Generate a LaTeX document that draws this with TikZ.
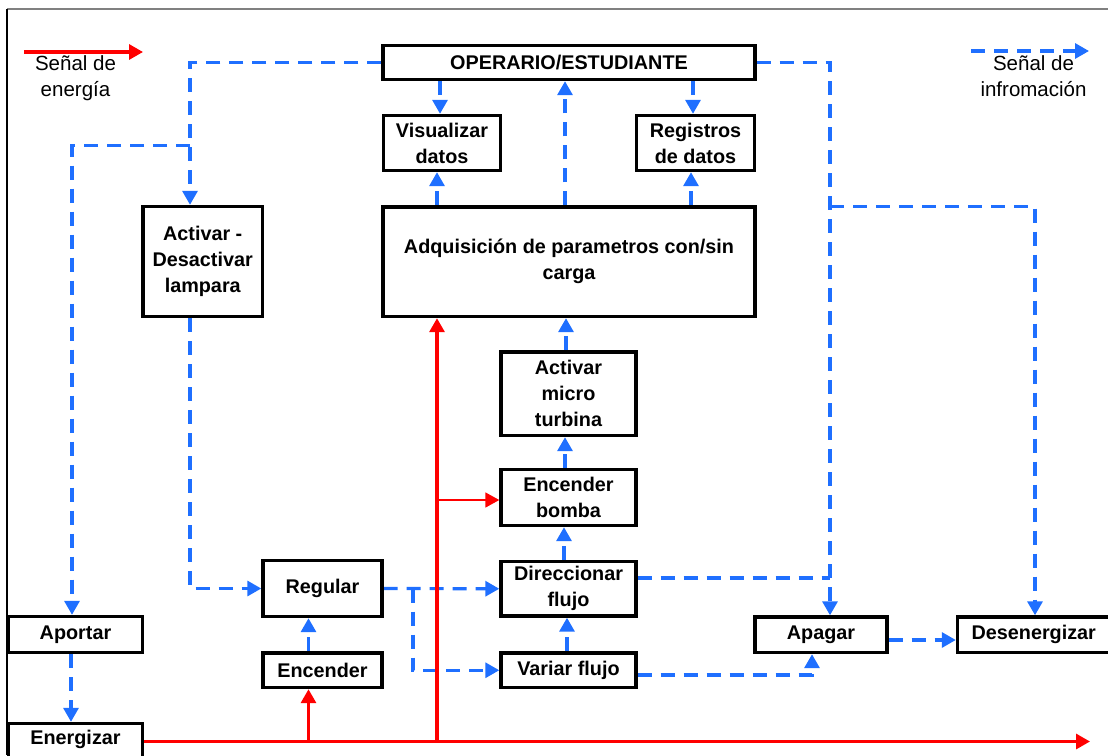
\documentclass[tikz,border=0pt]{standalone}
\usepackage{fontspec}
\setmainfont{Liberation Sans}
\usetikzlibrary{arrows.meta,backgrounds}
\definecolor{infoblue}{RGB}{31,111,255}
\definecolor{powerred}{RGB}{255,0,0}
\definecolor{framegray}{RGB}{128,128,128}

\begin{document}
\begin{tikzpicture}[x=1pt,y=-1pt,
  block/.style={draw=black, line width=3.4pt, fill=white, inner sep=0pt,
    align=center, font=\bfseries\fontsize{19.8}{26}\selectfont},
  legendtext/.style={inner sep=0pt, align=center, font=\fontsize{20.5}{26}\selectfont},
  infoline/.style={draw=infoblue, line width=3.2pt, dash pattern=on 14pt off 9pt},
  info/.style={infoline, -{Triangle[width=15pt,length=14pt]}},
  powerline/.style={draw=powerred, line width=3.2pt},
  power/.style={powerline, -{Triangle[width=15pt,length=14pt]}},
  powerthin/.style={draw=powerred, line width=1.6pt, -{Triangle[width=15pt,length=14pt]}}
]
\useasboundingbox (0,0) rectangle (1108,755);
\clip (0,0) rectangle (1108,755);

% outer frame
\coordinate (fTL) at (7,9);
\coordinate (fTR) at (1108,9);
\coordinate (fBL) at (7,755);
\draw[framegray, line width=1.5pt] (fTL) -- (fTR);
\draw[black, line width=1.3pt] (fTL) -- (fBL);

% legend
\coordinate (legRa) at (24,52);
\coordinate (legRb) at (143,52);
\draw[power] (legRa) -- (legRb);
\node[legendtext] (legRtxt) at (75.5,78.4) {Señal de\\energía};
\coordinate (legBa) at (971,51);
\coordinate (legBb) at (1089,51);
\draw[info] (legBa) -- (legBb);
\node[legendtext] (legBtxt) at (1033.5,76.2) {Señal de\\infromación};

% blocks
\node[block, minimum width=372pt, minimum height=34pt] (op) at (569,62.5) {OPERARIO/ESTUDIANTE};
\node[block, minimum width=117pt, minimum height=55pt] (vis) at (442,143) {Visualizar\\datos};
\node[block, minimum width=118pt, minimum height=55pt] (reg) at (695.5,143) {Registros\\de datos};
\node[block, minimum width=372pt, minimum height=109.5pt] (adq) at (569,261.75) {Adquisición de parametros con/sin\\carga};
\node[block, minimum width=119.5pt, minimum height=110pt] (lamp) at (202.75,261.5) {Activar -\\Desactivar\\lampara};
\node[block, minimum width=135pt, minimum height=83.5pt] (turb) at (568.5,393.75) {Activar\\micro\\turbina};
\node[block, minimum width=135pt, minimum height=56pt] (bomba) at (568.5,497.5) {Encender\\bomba};
\node[block, minimum width=135pt, minimum height=54.5pt] (dir) at (568.5,588.75) {Direccionar\\flujo};
\node[block, minimum width=135pt, minimum height=34.5pt] (var) at (568.5,670.25) {Variar flujo};
\node[block, minimum width=119pt, minimum height=56pt] (regl) at (322.5,588.5) {Regular};
\node[block, minimum width=119pt, minimum height=34.5pt] (enc) at (322.5,670.25) {Encender};
\node[block, minimum width=134pt, minimum height=36pt] (aport) at (75.5,634.5) {Aportar};
\node[block, minimum width=134pt, minimum height=36pt, text height=14pt, text depth=8.4pt] (energ) at (75.5,741.5) {Energizar};
\node[block, minimum width=132pt, minimum height=35.5pt] (apag) at (821,634.75) {Apagar};
\node[block, minimum width=152.5pt, minimum height=35.5pt] (desen) at (1033.75,634.75) {Desenergizar};

% junction points
\coordinate (jl) at (190,145.5);
\coordinate (jr) at (830,206.5);
\coordinate (jm) at (413,588.5);
\coordinate (rj1) at (308.5,741.5);
\coordinate (rj2) at (437,741.5);
\coordinate (rj3) at (437,500);
\coordinate (redend) at (1090,741.5);

\begin{scope}[on background layer]
  % information signals
  \draw[info] (op.west) -| (190,0 |- lamp.north);
  \draw[info] (jl) -| (72,0 |- aport.north);
  \draw[info] (op.east) -| (830,0 |- apag.north);
  \draw[info] (jr) -| (1035,0 |- desen.north);
  \draw[info] (440,0 |- op.south) -- (440,0 |- vis.north);
  \draw[info] (437,0 |- adq.north) -- (437,0 |- vis.south);
  \draw[info] (565,0 |- adq.north) -- (565,0 |- op.south);
  \draw[info] (693,0 |- op.south) -- (693,0 |- reg.north);
  \draw[info] (691,0 |- adq.north) -- (691,0 |- reg.south);
  \draw[info] (190,0 |- lamp.south) |- (regl.west);
  \draw[info] (regl.east) -- (dir.west);
  \draw[info] (jm) |- (var.west);
  \draw[info] (308.5,0 |- enc.north) -- (308.5,0 |- regl.south);
  \draw[info] (567,0 |- var.north) -- (567,0 |- dir.south);
  \draw[info] (564,0 |- dir.north) -- (564,0 |- bomba.south);
  \draw[info] (565,0 |- bomba.north) -- (565,0 |- turb.south);
  \draw[info] (566,0 |- turb.north) -- (566,0 |- adq.south);
  \draw[infoline] (dir.east |- 0,578) -- (830,578);
  \draw[info] (var.east |- 0,675) -| (812,0 |- apag.south);
  \draw[info] (apag.east |- 0,640) -- (desen.west |- 0,640);
  \draw[info] (71,0 |- aport.south) -- (71,0 |- energ.north);
  % energy signals
  \draw[power] (energ.east) -- (redend);
  \draw[power] (rj1) -- (308.5,0 |- enc.south);
  \draw[power] (rj2) -- (437,0 |- adq.south);
  \draw[powerthin] (rj3) -- (bomba.west |- 0,500);
\end{scope}
\end{tikzpicture}
\end{document}
